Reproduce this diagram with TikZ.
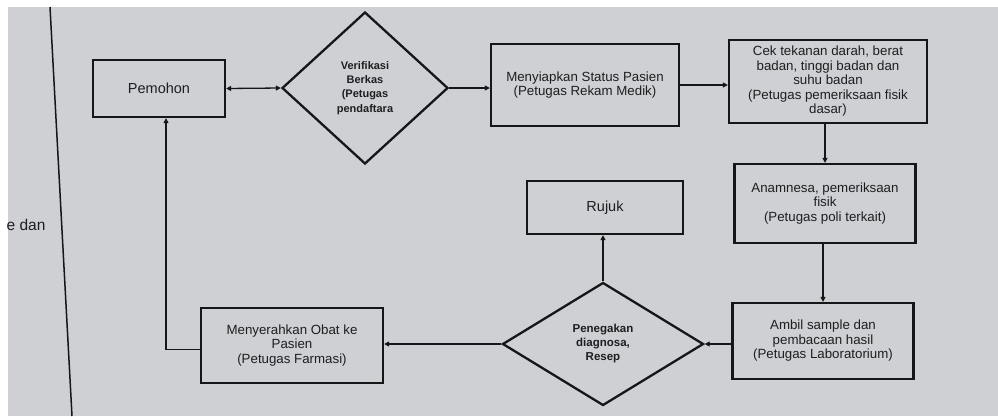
\documentclass[tikz,border=0pt]{standalone}
\usepackage{fontspec}
\setmainfont{Liberation Sans}
\usetikzlibrary{shapes.geometric,arrows.meta}
\definecolor{paper}{RGB}{206,208,211}
\definecolor{ink}{RGB}{22,22,24}
\definecolor{txt}{RGB}{30,30,32}
\tikzset{
  box/.style={draw=ink, line width=2.3pt, rectangle, inner sep=2pt, align=center, text=txt,
    font=\fontsize{13.3}{14.5}\selectfont},
  bigbox/.style={box, font=\fontsize{14.5}{16}\selectfont},
  dec/.style={draw=ink, line width=2.3pt, diamond, inner sep=0pt, align=center, text=txt},
  arr/.style={draw=ink, line width=1.3pt, -{Triangle[length=5pt,width=5pt]}},
  darr/.style={draw=ink, line width=1.3pt, {Triangle[length=5pt,width=5pt]}-{Triangle[length=5pt,width=5pt]}}
}
\begin{document}
\begin{tikzpicture}[x=1pt,y=-1pt]
\useasboundingbox (0,0) rectangle (998,416);
\fill[white] (0,0) rectangle (998,416);
\fill[paper] (8,7) rectangle (998,416);
\coordinate (lt) at (50,7);
\coordinate (lb) at (72,416);
\draw[ink, line width=1.5pt] (lt) -- (lb);
\node[text=txt, font=\fontsize{15.5}{17}\selectfont, anchor=east] (edan) at (49,225) {e dan};

\node[bigbox, minimum width=132pt, minimum height=57pt] (pem) at (159,88.5) {Pemohon};
\node[dec, minimum width=166pt, minimum height=152pt,
  font=\fontsize{11}{14.3}\selectfont\bfseries] (ver) at (365,88) {Verifikasi\\Berkas\\(Petugas\\pendaftara};
\node[box, minimum width=188pt, minimum height=82pt] (sia) at (585,85)
  {Menyiapkan Status Pasien\\(Petugas Rekam Medik)};
\node[box, minimum width=198pt, minimum height=83pt] (cek) at (828,81.5)
  {Cek tekanan darah, berat\\badan, tinggi badan dan\\suhu badan\\(Petugas pemeriksaan fisik\\dasar)};
\node[box, minimum width=181pt, minimum height=79pt] (ana) at (825,203.5)
  {Anamnesa, pemeriksaan\\fisik\\(Petugas poli terkait)};
\node[box, minimum width=181pt, minimum height=76pt] (amb) at (823,341)
  {Ambil sample dan\\pembacaan hasil\\(Petugas Laboratorium)};
\node[dec, minimum width=201pt, minimum height=123pt,
  font=\fontsize{11.5}{14}\selectfont\bfseries] (peg) at (603,344) {Penegakan\\diagnosa,\\Resep};
\node[bigbox, minimum width=156pt, minimum height=53pt] (ruj) at (605,207.5) {Rujuk};
\node[box, minimum width=182pt, minimum height=75pt] (men) at (292,345.5)
  {Menyerahkan Obat ke\\Pasien\\(Petugas Farmasi)};

\draw[darr] (pem.east) -- (ver.west);
\draw[arr] (ver.east) -- (ver.east -| sia.west);
\draw[arr] (sia.east) -- (sia.east -| cek.west);
\draw[arr] (cek.south -| ana.north) -- (ana.north);
\draw[arr] (ana.south -| amb.north) -- (amb.north);
\draw[arr] (amb.west |- peg.east) -- (peg.east);
\draw[arr] (peg.north) -- (peg.north |- ruj.south);
\draw[arr] (peg.west) -- (peg.west -| men.east);
\draw[arr] ([yshift=-4pt]men.west) -| ([xshift=7pt]pem.south);
\end{tikzpicture}
\end{document}
